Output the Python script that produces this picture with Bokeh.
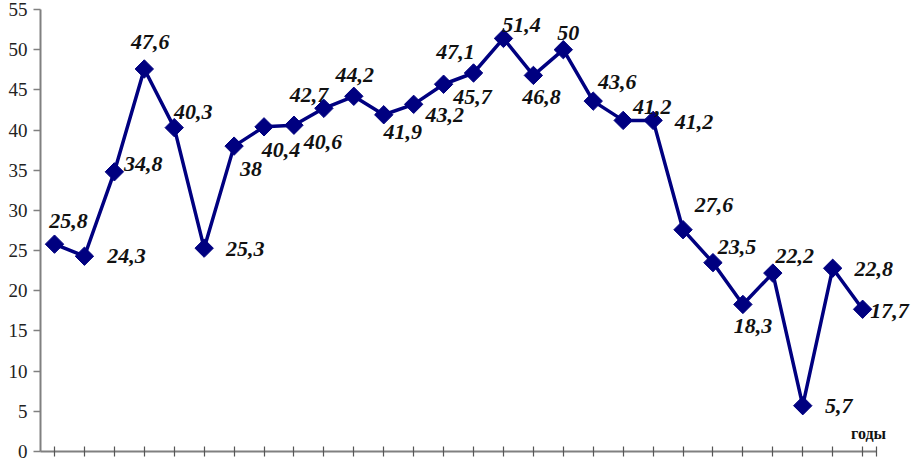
from bokeh.plotting import figure
from bokeh.models import ColumnDataSource, FixedTicker, Range1d, Label, LabelSet, CustomJSTickFormatter
from bokeh.embed import file_html
from bokeh.resources import INLINE

# data
values = [25.8, 24.3, 34.8, 47.6, 40.3, 25.3, 38, 40.4, 40.6, 42.7, 44.2, 41.9, 43.2, 45.7,
          47.1, 51.4, 46.8, 50, 43.6, 41.2, 41.2, 27.6, 23.5, 18.3, 22.2, 5.7, 22.8, 17.7]
y_ticks = [0, 5, 10, 15, 20, 25, 30, 35, 40, 45, 50, 55]
x_title = "годы"

# label placement (pixel offsets from the marker)
label_dx = [14, 42, 29, 6, 19, 41, 17, 17, 29, -15, 1, 19, 31, 29,
            -18, 18, 8, 5, 24, 29, 41, 31, 24, 10, 22, 36, 41, 27]
label_dy = [23, 0, 8, 27, 16, -1, -23, -23, -17, 13, 21, -17, -11, -13,
            21, 13, -22, 17, 19, 13, -2, 25, 16, -22, 17, 0, -1, -2]

idx = list(range(len(values)))
labels = [(str(int(v)) if float(v).is_integer() else str(v)).replace(".", ",") for v in values]

src = ColumnDataSource(dict(x=idx, y=values, lab=labels, dx=label_dx, dy=label_dy))

n = len(values)
pad = 0.468
x0 = -pad
axis_end = n - 1 + 0.46
x1 = x0 + 874 / 29.93

p = figure(width=914, height=461, output_backend="svg", toolbar_location=None,
           x_range=Range1d(x0, x1), y_range=Range1d(0, 55),
           min_border_left=40, min_border_right=0, min_border_top=9, min_border_bottom=10)
p.outline_line_color = None
p.grid.grid_line_color = None
p.background_fill_color = "white"

navy = "#000080"
p.line("x", "y", source=src, line_color=navy, line_width=3.5)
p.scatter("x", "y", source=src, marker="square", size=13, angle=0.7854,
          fill_color=navy, line_color=navy)
p.add_layout(LabelSet(x="x", y="y", text="lab", source=src, x_offset="dx", y_offset="dy",
                      text_font="Liberation Serif", text_font_style="bold italic",
                      text_font_size="22px", text_align="center", text_baseline="middle",
                      text_color="#111111"))

# y axis
ya = p.yaxis[0]
ya.ticker = FixedTicker(ticks=y_ticks)
ya.axis_line_color = "#808080"
ya.axis_line_width = 2
ya.major_tick_line_color = "#808080"
ya.major_tick_line_width = 1.5
ya.major_tick_out = 7
ya.major_tick_in = 0
ya.minor_tick_line_color = None
ya.major_label_text_font = "Liberation Serif"
ya.major_label_text_font_size = "19px"
ya.major_label_text_color = "#222222"
ya.major_label_standoff = 6

# x axis
xa = p.xaxis[0]
xa.ticker = FixedTicker(ticks=idx + [axis_end])
xa.bounds = (x0, axis_end)
xa.formatter = CustomJSTickFormatter(code="return ''")
xa.axis_line_color = "#808080"
xa.axis_line_width = 2
xa.major_tick_line_color = "#555555"
xa.major_tick_line_width = 1.2
xa.major_tick_out = 5
xa.major_tick_in = 5
xa.minor_tick_line_color = None
xa.major_label_standoff = 0
xa.major_label_text_font_size = "1px"

p.add_layout(Label(x=n - 1 + 0.2, y=2.3, text=x_title, text_font="Liberation Serif",
                   text_font_style="bold", text_font_size="16px", text_align="center",
                   text_baseline="middle", text_color="#111111"))

open("out.html", "w").write(file_html(p, INLINE))
